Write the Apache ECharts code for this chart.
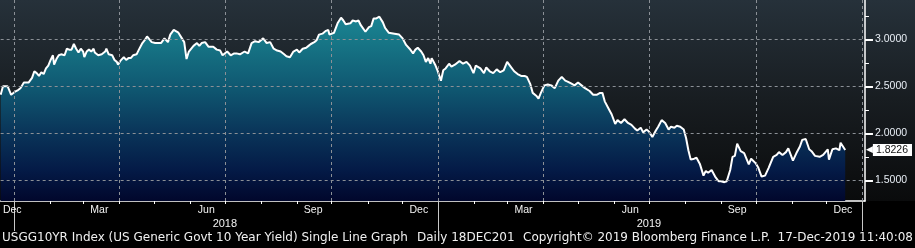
<!DOCTYPE html>
<html><head><meta charset="utf-8">
<script src="https://cdn.jsdelivr.net/npm/echarts@6/dist/echarts.min.js"></script>
<style>html,body{margin:0;padding:0;background:#000;}#c{width:915px;height:248px;}</style>
</head><body><div id="c"></div>
<script>
const dates = ['2017-12-20','2017-12-22','2017-12-26','2017-12-28','2017-12-29','2018-01-01','2018-01-04','2018-01-06','2018-01-09','2018-01-13','2018-01-16','2018-01-18','2018-01-20','2018-01-22','2018-01-24','2018-01-26','2018-01-28','2018-01-30','2018-02-01','2018-02-03','2018-02-04','2018-02-06','2018-02-08','2018-02-10','2018-02-13','2018-02-15','2018-02-17','2018-02-19','2018-02-21','2018-02-23','2018-02-25','2018-02-27','2018-03-01','2018-03-02','2018-03-04','2018-03-06','2018-03-08','2018-03-10','2018-03-11','2018-03-14','2018-03-17','2018-03-20','2018-03-21','2018-03-23','2018-03-26','2018-03-28','2018-03-30','2018-03-31','2018-04-02','2018-04-05','2018-04-07','2018-04-09','2018-04-11','2018-04-13','2018-04-16','2018-04-18','2018-04-21','2018-04-23','2018-04-25','2018-04-29','2018-05-02','2018-05-05','2018-05-07','2018-05-10','2018-05-13','2018-05-15','2018-05-18','2018-05-19','2018-05-22','2018-05-25','2018-05-27','2018-05-29','2018-05-31','2018-06-04','2018-06-07','2018-06-09','2018-06-11','2018-06-14','2018-06-17','2018-06-21','2018-06-24','2018-06-27','2018-06-29','2018-07-03','2018-07-06','2018-07-09','2018-07-11','2018-07-14','2018-07-18','2018-07-21','2018-07-24','2018-07-27','2018-07-30','2018-08-03','2018-08-06','2018-08-09','2018-08-12','2018-08-15','2018-08-18','2018-08-21','2018-08-23','2018-08-26','2018-08-29','2018-09-01','2018-09-03','2018-09-06','2018-09-09','2018-09-11','2018-09-13','2018-09-16','2018-09-18','2018-09-20','2018-09-23','2018-09-26','2018-09-28','2018-09-29','2018-10-03','2018-10-06','2018-10-09','2018-10-11','2018-10-13','2018-10-17','2018-10-19','2018-10-22','2018-10-24','2018-10-26','2018-10-30','2018-11-02','2018-11-04','2018-11-06','2018-11-08','2018-11-11','2018-11-14','2018-11-16','2018-11-19','2018-11-24','2018-11-25','2018-11-28','2018-12-01','2018-12-04','2018-12-07','2018-12-10','2018-12-12','2018-12-14','2018-12-17','2018-12-19','2018-12-21','2018-12-23','2018-12-25','2018-12-26','2018-12-29','2018-12-31','2019-01-03','2019-01-05','2019-01-07','2019-01-10','2019-01-12','2019-01-15','2019-01-19','2019-01-22','2019-01-25','2019-01-28','2019-01-31','2019-02-02','2019-02-06','2019-02-09','2019-02-11','2019-02-14','2019-02-17','2019-02-20','2019-02-23','2019-02-26','2019-03-01','2019-03-04','2019-03-07','2019-03-10','2019-03-13','2019-03-16','2019-03-18','2019-03-21','2019-03-23','2019-03-26','2019-03-28','2019-03-30','2019-04-02','2019-04-05','2019-04-08','2019-04-11','2019-04-14','2019-04-17','2019-04-20','2019-04-22','2019-04-25','2019-04-28','2019-05-01','2019-05-04','2019-05-07','2019-05-11','2019-05-14','2019-05-17','2019-05-20','2019-05-22','2019-05-24','2019-05-27','2019-05-30','2019-06-02','2019-06-04','2019-06-07','2019-06-10','2019-06-13','2019-06-16','2019-06-19','2019-06-21','2019-06-24','2019-06-26','2019-06-29','2019-07-01','2019-07-04','2019-07-07','2019-07-09','2019-07-12','2019-07-15','2019-07-18','2019-07-20','2019-07-23','2019-07-25','2019-07-28','2019-07-31','2019-08-02','2019-08-04','2019-08-06','2019-08-09','2019-08-11','2019-08-14','2019-08-17','2019-08-19','2019-08-21','2019-08-24','2019-08-27','2019-08-30','2019-09-01','2019-09-04','2019-09-06','2019-09-09','2019-09-11','2019-09-13','2019-09-15','2019-09-18','2019-09-21','2019-09-25','2019-09-27','2019-10-01','2019-10-03','2019-10-06','2019-10-09','2019-10-12','2019-10-16','2019-10-19','2019-10-21','2019-10-24','2019-10-27','2019-10-29','2019-11-02','2019-11-05','2019-11-08','2019-11-10','2019-11-13','2019-11-16','2019-11-18','2019-11-21','2019-11-25','2019-11-28','2019-12-02','2019-12-03','2019-12-06','2019-12-09','2019-12-12','2019-12-13','2019-12-17'];
const yields = [2.41,2.50,2.50,2.44,2.41,2.44,2.46,2.48,2.54,2.54,2.59,2.66,2.64,2.61,2.65,2.63,2.69,2.72,2.78,2.83,2.73,2.79,2.83,2.84,2.83,2.90,2.89,2.89,2.95,2.90,2.86,2.90,2.87,2.81,2.87,2.89,2.87,2.90,2.86,2.83,2.84,2.87,2.90,2.84,2.83,2.78,2.76,2.73,2.77,2.81,2.78,2.80,2.80,2.83,2.84,2.89,2.96,2.99,3.03,2.97,2.96,2.96,2.96,3.01,2.97,3.05,3.10,3.11,3.07,3.01,2.97,2.79,2.87,2.93,2.96,2.93,2.96,2.97,2.92,2.92,2.89,2.88,2.83,2.87,2.83,2.85,2.85,2.84,2.87,2.85,2.96,2.98,2.97,3.01,2.96,2.97,2.90,2.88,2.87,2.84,2.82,2.81,2.87,2.89,2.86,2.90,2.91,2.93,2.95,2.97,2.99,3.05,3.06,3.09,3.10,3.05,3.07,3.17,3.23,3.20,3.16,3.17,3.20,3.19,3.20,3.15,3.08,3.13,3.14,3.22,3.22,3.24,3.18,3.12,3.07,3.06,3.05,3.05,3.01,2.94,2.90,2.85,2.89,2.91,2.87,2.83,2.76,2.80,2.74,2.80,2.73,2.67,2.56,2.67,2.69,2.74,2.71,2.73,2.77,2.74,2.76,2.72,2.64,2.72,2.69,2.64,2.70,2.66,2.64,2.68,2.65,2.67,2.76,2.71,2.66,2.63,2.61,2.61,2.60,2.52,2.43,2.40,2.37,2.43,2.51,2.52,2.51,2.48,2.56,2.60,2.56,2.55,2.53,2.51,2.54,2.51,2.48,2.45,2.41,2.41,2.43,2.43,2.34,2.27,2.20,2.10,2.14,2.11,2.15,2.11,2.09,2.05,2.03,2.06,2.01,2.04,2.02,1.96,2.03,2.07,2.14,2.11,2.04,2.07,2.06,2.08,2.07,2.04,1.95,1.82,1.72,1.73,1.74,1.67,1.55,1.60,1.58,1.61,1.54,1.49,1.49,1.48,1.49,1.61,1.75,1.76,1.89,1.81,1.79,1.67,1.73,1.68,1.64,1.54,1.55,1.63,1.75,1.77,1.80,1.77,1.80,1.84,1.71,1.79,1.86,1.93,1.94,1.83,1.81,1.76,1.75,1.77,1.83,1.72,1.83,1.84,1.82,1.90,1.8226];

const yTicks = [1.5, 2.0, 2.5, 3.0];
const yMinorTicks = [1.75, 2.25, 2.75, 3.25];
const lastValue = 1.8226;
const gridDates = ['2018-01-01','2018-04-01','2018-07-01','2018-10-01','2019-01-01','2019-04-01','2019-07-01','2019-10-01','2020-01-01'];
const monthTickDates = ['2018-01-01','2018-02-01','2018-03-01','2018-04-01','2018-05-01','2018-06-01','2018-07-01','2018-08-01','2018-09-01','2018-10-01','2018-11-01','2018-12-01','2019-01-01','2019-02-01','2019-03-01','2019-04-01','2019-05-01','2019-06-01','2019-07-01','2019-08-01','2019-09-01','2019-10-01','2019-11-01','2019-12-01','2020-01-01'];
const monthLabelDates = ['2017-12-30','2018-03-15','2018-06-15','2018-09-15','2018-12-15','2019-03-15','2019-06-15','2019-09-15','2019-12-15'];
const monthLabels = ['Dec','Mar','Jun','Sep','Dec','Mar','Jun','Sep','Dec'];
const yearTickDates = ['2018-01-01','2019-01-01','2020-01-01'];
const yearLabelDates = ['2018-07-01','2019-07-01'];
const yearLabels = ['2018','2019'];
const footerTitle = 'USGG10YR Index (US Generic Govt 10 Year Yield) Single Line Graph';
const footerRange = 'Daily 18DEC201';
const footerCopy = 'Copyright\u00a9 2019 Bloomberg Finance L.P.';
const footerStamp = '17-Dec-2019 11:40:08';

function t(s){ const p = s.split('-').map(Number); return new Date(p[0], p[1]-1, p[2]).getTime(); }
const xMin = t('2017-12-20'), xMax = t('2020-01-03');
const yMin = 1.28, yMax = 3.418;

const seriesData = dates.map((d,i)=>[t(d), yields[i]]);
const monthLabelMap = {}; monthLabelDates.forEach((d,i)=>{ monthLabelMap[t(d)] = monthLabels[i]; });
const yearLabelMap = {}; yearLabelDates.forEach((d,i)=>{ yearLabelMap[t(d)] = yearLabels[i]; });

const chart = echarts.init(document.getElementById('c'), null, {renderer:'canvas'});
const gridLine = {type:[3,3], color:'#8b9096', width:1};
const axisFont = 'Liberation Sans';
chart.setOption({
  animation:false,
  backgroundColor: new echarts.graphic.LinearGradient(0,0,0,1,[
    {offset:0,color:'#26313a'},{offset:0.4,color:'#181d21'},{offset:0.81,color:'#0a0b0c'},{offset:0.811,color:'#000'},{offset:1,color:'#000'}]),
  grid:{left:0,right:46,top:0,bottom:47,containLabel:false},
  xAxis:[{
    type:'value', min:xMin, max:xMax, position:'bottom',
    axisLine:{show:true,lineStyle:{color:'#ffffff',width:1.5}},
    axisTick:{show:true,length:3,customValues:monthTickDates.map(t),lineStyle:{color:'#ffffff',width:1}},
    axisLabel:{show:true,customValues:monthLabelDates.map(t),formatter:v=>monthLabelMap[v]||'',color:'#f2f2f2',fontFamily:axisFont,fontSize:10.5,margin:4},
    splitLine:{show:false}
  },{
    type:'value', min:xMin, max:xMax, position:'bottom', gridIndex:0,
    axisLine:{show:false},
    axisTick:{show:true,length:30,customValues:yearTickDates.map(t),lineStyle:{color:'#c8c8c8',width:1}},
    axisLabel:{show:true,customValues:yearLabelDates.map(t),formatter:v=>yearLabelMap[v]||'',color:'#f2f2f2',fontFamily:axisFont,fontSize:11,margin:17},
    splitLine:{show:false}
  }],
  yAxis:[{
    type:'value', position:'right', min:yMin, max:yMax,
    axisLine:{show:true,lineStyle:{color:'#ffffff',width:1.5}},
    axisTick:{show:true,length:8,customValues:yTicks,lineStyle:{color:'#ffffff',width:2}},
    axisLabel:{show:true,customValues:yTicks,formatter:v=>v.toFixed(4),color:'#e8eef5',fontFamily:axisFont,fontSize:10.5,margin:10},
    splitLine:{show:false}
  },{
    type:'value', position:'right', min:yMin, max:yMax,
    axisLine:{show:false},
    axisTick:{show:true,length:4,customValues:yMinorTicks,lineStyle:{color:'#ffffff',width:1}},
    axisLabel:{show:false}, splitLine:{show:false}
  },{
    type:'value', position:'right', min:yMin, max:yMax,
    axisLine:{show:false}, axisTick:{show:false},
    axisLabel:{show:true,customValues:[lastValue],formatter:v=>'{a|\u25C0}{b|'+v.toFixed(4)+'}',margin:1,
      rich:{a:{color:'#ffffff',fontFamily:'DejaVu Sans',fontSize:9,padding:[0,0,0,0]},
            b:{color:'#111',backgroundColor:'#ffffff',padding:[1,4,0,3],fontFamily:axisFont,fontSize:10.5}}},
    splitLine:{show:false}
  }],
  graphic:[
    {type:'text',left:2,top:232,style:{text:footerTitle,fill:'#f0f0f0',font:'12px "DejaVu Sans"'}},
    {type:'text',left:417,top:232,style:{text:footerRange,fill:'#f0f0f0',font:'12px "DejaVu Sans"'}},
    {type:'text',left:523,top:232,style:{text:footerCopy,fill:'#f0f0f0',font:'12px "DejaVu Sans"'}},
    {type:'text',right:2,top:232,style:{text:footerStamp,fill:'#f0f0f0',font:'12px "DejaVu Sans"'}}
  ],
  series:[{
    type:'line', data:seriesData, showSymbol:false, z:1, silent:true,
    lineStyle:{width:0,opacity:0},
    areaStyle:{origin:'start',opacity:1,color:new echarts.graphic.LinearGradient(0,0,0,201,[
      {offset:0,color:'#1c8d9c'},{offset:0.2,color:'#177787'},{offset:0.45,color:'#0f5670'},{offset:0.65,color:'#0a365a'},{offset:0.85,color:'#041a46'},{offset:1,color:'#01072c'}],true)}
  },{
    type:'line', data:[], z:2, silent:true,
    markLine:{silent:true,symbol:'none',label:{show:false},lineStyle:gridLine,
      data:[...gridDates.map(d=>({xAxis:t(d)})), ...yTicks.map(v=>({yAxis:v}))]}
  },{
    type:'line', data:seriesData, showSymbol:false, z:3, silent:true,
    lineStyle:{width:2,color:'#ffffff'}
  }]
});
</script></body></html>
